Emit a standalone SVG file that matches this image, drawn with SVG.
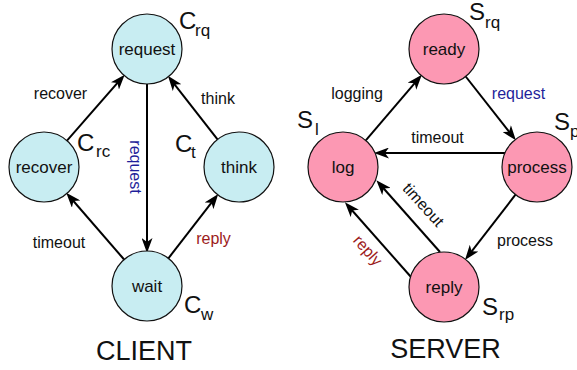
<svg xmlns="http://www.w3.org/2000/svg" width="577" height="370" viewBox="0 0 577 370">
<style>
  text { font-family: "Liberation Sans", Arial, sans-serif; fill: #111; }
  .cnode circle { fill: #c8edf2; stroke: #111; stroke-width: 1.2; }
  .snode circle { fill: #fc98b3; stroke: #111; stroke-width: 1.2; }
  .nl { font-size: 17px; text-anchor: middle; }
  .el { font-size: 16px; text-anchor: middle; }
  .big { font-size: 24px; }
  .sub { font-size: 17px; }
  .title { font-size: 27px; text-anchor: middle; }
  .blue { fill: #1f1f9a; }
  .red { fill: #9c1b1b; }
  .edges line { stroke: #000; stroke-width: 2; marker-end: url(#arr); }
</style>
<defs>
  <marker id="arr" markerUnits="userSpaceOnUse" viewBox="0 0 15 11" markerWidth="15" markerHeight="11" refX="10" refY="5.5" orient="auto">
    <path d="M0,0 L15,5.5 L0,11 L4,5.5 Z" fill="#000"/>
  </marker>
</defs>

<g id="connectors" class="edges">
  <line x1="67" y1="140.6" x2="121.4" y2="78.4"/>
  <line x1="217.5" y1="139.4" x2="171" y2="79.8"/>
  <line x1="147" y1="84" x2="147" y2="248"/>
  <line x1="124.1" y1="259.5" x2="69.5" y2="196.5"/>
  <line x1="168.4" y1="258.3" x2="215.2" y2="197.9"/>
  <line x1="365.8" y1="140.4" x2="418.6" y2="78.6"/>
  <line x1="465.7" y1="76.5" x2="512.8" y2="136.4"/>
  <line x1="505" y1="153" x2="379" y2="153"/>
  <line x1="515.5" y1="194.7" x2="468" y2="256.1"/>
  <line x1="440" y1="252" x2="379.7" y2="184"/>
  <line x1="411" y1="277" x2="348.2" y2="206"/>
</g>

<g id="edge-labels">
  <text class="el" x="60.5" y="99">recover</text>
  <text class="el" x="218" y="104">think</text>
  <text class="el blue" transform="translate(130,167) rotate(90)">request</text>
  <text class="el" x="59" y="248">timeout</text>
  <text class="el red" x="213.5" y="244">reply</text>
  <text class="el" x="357" y="99">logging</text>
  <text class="el blue" x="518.5" y="99">request</text>
  <text class="el" x="437.5" y="143">timeout</text>
  <text class="el" transform="translate(419.3,208.4) rotate(48)">timeout</text>
  <text class="el red" transform="translate(363.8,254) rotate(48)">reply</text>
  <text class="el" x="525" y="246">process</text>
</g>

<g id="c-request" class="cnode">
  <circle cx="147" cy="49" r="35"/>
  <text class="nl" x="147" y="55">request</text>
  <text class="big" x="179" y="29">C</text><text class="sub" x="195" y="36">rq</text>
</g>
<g id="c-recover" class="cnode">
  <circle cx="44" cy="167" r="35"/>
  <text class="nl" x="44" y="173">recover</text>
  <text class="big" x="77" y="150.5">C</text><text class="sub" x="96" y="156.5">rc</text>
</g>
<g id="c-think" class="cnode">
  <circle cx="239" cy="167" r="35"/>
  <text class="nl" x="239" y="173">think</text>
  <text class="big" x="175" y="152">C</text><text class="sub" x="191" y="157.5">t</text>
</g>
<g id="c-wait" class="cnode">
  <circle cx="147" cy="286" r="35"/>
  <text class="nl" x="147" y="292">wait</text>
  <text class="big" x="184" y="313">C</text><text class="sub" x="201" y="320">w</text>
</g>

<g id="s-ready" class="snode">
  <circle cx="444" cy="49" r="35"/>
  <text class="nl" x="444" y="55">ready</text>
  <text class="big" x="469" y="20">S</text><text class="sub" x="485" y="27.5">rq</text>
</g>
<g id="s-log" class="snode">
  <circle cx="343" cy="167" r="35"/>
  <text class="nl" x="343" y="173">log</text>
  <text class="big" x="297" y="128">S</text><text class="sub" x="315" y="135">l</text>
</g>
<g id="s-process" class="snode">
  <circle cx="537" cy="167" r="35"/>
  <text class="nl" x="537" y="173">process</text>
  <text class="big" x="554" y="130">S</text><text class="sub" x="570" y="137">p</text>
</g>
<g id="s-reply" class="snode">
  <circle cx="444" cy="287" r="35"/>
  <text class="nl" x="444" y="293">reply</text>
  <text class="big" x="482" y="315">S</text><text class="sub" x="499" y="320">rp</text>
</g>

<text class="title" x="144" y="360">CLIENT</text>
<text class="title" x="445.5" y="358">SERVER</text>
</svg>
